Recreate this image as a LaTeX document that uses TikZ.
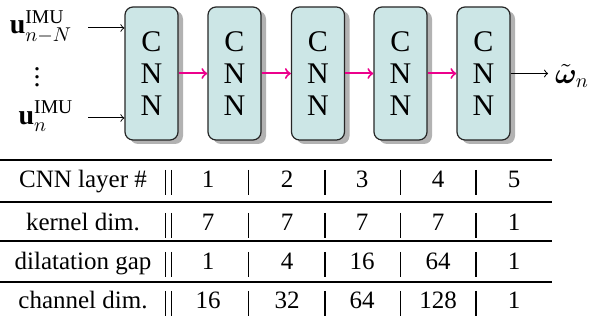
\documentclass[tikz,border=0pt]{standalone}
\usepackage{fontspec}
\setmainfont{Liberation Serif}
\usepackage{amsmath,bm}
\usetikzlibrary{shadows}
\definecolor{cnnfill}{RGB}{204,230,230}
\definecolor{cnnpink}{RGB}{236,0,140}

\begin{document}
\begin{tikzpicture}[x=0.5pt,y=0.5pt,yscale=-1,xscale=1,
  cnnbox/.style={draw=black!85,line width=0.6pt,fill=cnnfill,rounded corners=4pt,
    minimum width=26.5pt,minimum height=66.5pt,inner sep=0pt,align=center,
    font=\fontsize{15}{16}\selectfont,
    drop shadow={shadow xshift=2.5pt,shadow yshift=-2pt,fill=black!30,opacity=1}},
  mathlabel/.style={font=\fontsize{14}{17}\selectfont},
  pinkarrow/.style={->,draw=cnnpink,line width=1pt},
  thinarrow/.style={->,line width=0.5pt},
  cell/.style={anchor=base,font=\fontsize{12.5}{14}\selectfont,inner sep=0pt},
  bar/.style={line width=0.6pt}]
\useasboundingbox (0,0) rectangle (595,320);

%Shape: CNN blocks
\node[cnnbox] (cnn1) at (151.5,73.5) {C\\N\\N};
\node[cnnbox] (cnn2) at (234.5,73.5) {C\\N\\N};
\node[cnnbox] (cnn3) at (318,73.5) {C\\N\\N};
\node[cnnbox] (cnn4) at (400.5,73.5) {C\\N\\N};
\node[cnnbox] (cnn5) at (483.5,73.5) {C\\N\\N};

% Text Node
\node[mathlabel] (uN) at (41,27) {$\mathbf{u}_{n-N}^{\mathrm{IMU}}$};
% Text Node
\node[mathlabel] (udots) at (37,71) {$\vdots$};
% Text Node
\node[mathlabel] (u0) at (46,116) {$\mathbf{u}_{n}^{\mathrm{IMU}}$};
% Text Node
\node[mathlabel] (wout) at (572,76) {$\bm{\tilde{\omega}}_n$};

%Straight Lines
\coordinate (inN) at (88,28);
\coordinate (in0) at (88,118);
\draw[thinarrow] (inN) -- (inN -| cnn1.west);
\draw[thinarrow] (in0) -- (in0 -| cnn1.west);
\draw[pinkarrow] (cnn1) -- (cnn2);
\draw[pinkarrow] (cnn2) -- (cnn3);
\draw[pinkarrow] (cnn3) -- (cnn4);
\draw[pinkarrow] (cnn4) -- (cnn5);
\draw[thinarrow] (cnn5.east) -- (cnn5.east -| wout.west);

%Straight Lines: table rules
\draw[line width=1pt] (0,160) -- (552,160);
\draw[line width=0.75pt] (0,202) -- (552,202);
\draw[line width=0.75pt] (0,241) -- (552,241);
\draw[line width=0.75pt] (0,282) -- (552,282);

% Text Node: table rows
\foreach \r/\yy/\lab/\va/\vb/\vc/\vd/\ve in {
    1/188/CNN layer \#/1/2/3/4/5,
    2/231/kernel dim./7/7/7/7/1,
    3/270/dilatation gap/1/4/16/64/1,
    4/309/channel dim./16/32/64/128/1}{
  \node[cell] (lab\r) at (83,\yy) {\lab};
  \node[cell] (c\r a) at (208,\yy) {\va};
  \node[cell] (c\r b) at (287,\yy) {\vb};
  \node[cell] (c\r c) at (362,\yy) {\vc};
  \node[cell] (c\r d) at (438,\yy) {\vd};
  \node[cell] (c\r e) at (514,\yy) {\ve};
  \foreach \xx in {165.7,171.7,248.3,325,400.7,476}
    \draw[bar] (\xx,\yy-18) -- (\xx,\yy+7);
}

\end{tikzpicture}
\end{document}
